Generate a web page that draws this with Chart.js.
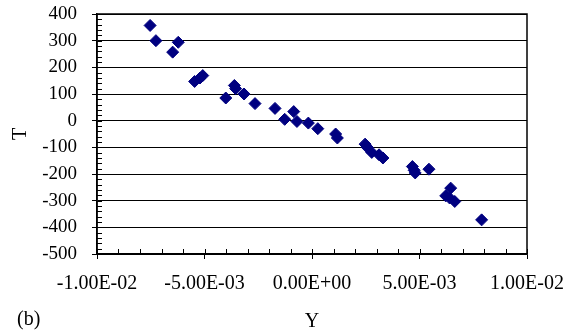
<!DOCTYPE html>
<html lang="en">
<head>
  <meta charset="UTF-8" />
  <title>T vs Y</title>
  <script src="https://cdn.jsdelivr.net/npm/chart.js"></script>
  <style>
    body {
      margin: 0;
      background: #fff;
      font-family: 'Liberation Serif', 'Times New Roman', serif;
    }
    .wrap {
      position: relative;
      width: 578px;
      height: 332px;
    }
    .panel-tag {
      position: absolute;
      left: 17px;
      top: 307px;
      font-size: 20px;
      color: #000;
    }
  </style>
</head>
<body>
  <div class="wrap">
    <canvas id="scatter"></canvas>
    <div class="panel-tag">(b)</div>
  </div>

  <script>
    // values
    const yValues = [
      -7.53e-3, -7.26e-3, -6.48e-3, -6.22e-3, -5.46e-3, -5.21e-3, -5.08e-3,
      -4.01e-3, -3.61e-3, -3.55e-3, -3.16e-3, -2.65e-3, -1.72e-3, -1.27e-3,
      -0.85e-3, -0.70e-3, -0.17e-3, 0.27e-3, 1.10e-3, 1.18e-3, 2.47e-3,
      2.57e-3, 2.78e-3, 3.12e-3, 3.30e-3, 4.67e-3, 4.75e-3, 4.80e-3,
      5.44e-3, 6.45e-3, 6.22e-3, 6.40e-3, 6.64e-3, 7.89e-3
    ];
    const tValues = [
      357, 300, 257, 294, 147, 160, 169,
      85, 132, 120, 100, 64, 46, 5,
      34, -3, -9, -30, -50, -65, -88,
      -100, -119, -128, -140, -172, -186, -196,
      -182, -253, -282, -290, -303, -372
    ];
    const xTicks = [-0.01, -0.005, 0, 0.005, 0.01];
    const tTicks = [400, 300, 200, 100, 0, -100, -200, -300, -400, -500];
    const xMinorStep = 0.001;
    const tMinorStep = 20;

    const points = yValues.map((y, i) => ({ x: y, y: tValues[i] }));

    function sciLabel(v) {
      return Number(v).toExponential(2).toUpperCase().replace(/E([+-])(\d)$/, 'E$10$2');
    }

    // minor ticks inside the plot + frame on top/right
    const frame = {
      id: 'frame',
      afterDraw(chart) {
        const ctx = chart.ctx;
        const a = chart.chartArea;
        const xs = chart.scales.x;
        const ys = chart.scales.y;
        ctx.save();
        ctx.strokeStyle = '#000';
        ctx.lineWidth = 1;
        ctx.beginPath();
        for (let v = xs.min; v <= xs.max + 1e-9; v += xMinorStep) {
          const px = Math.round(xs.getPixelForValue(v)) + 0.5;
          ctx.moveTo(px, a.bottom);
          ctx.lineTo(px, a.bottom - 5);
        }
        for (let v = ys.min; v <= ys.max + 1e-9; v += tMinorStep) {
          const py = Math.round(ys.getPixelForValue(v)) + 0.5;
          ctx.moveTo(a.left, py);
          ctx.lineTo(a.left + 5, py);
        }
        ctx.stroke();
        ctx.lineWidth = 1.5;
        ctx.strokeRect(a.left, a.top, a.right - a.left, a.bottom - a.top);
        ctx.restore();
      }
    };

    new Chart(document.getElementById('scatter'), {
      type: 'scatter',
      data: {
        datasets: [{
          data: points,
          pointStyle: 'rectRot',
          pointRadius: 6,
          backgroundColor: '#000080',
          borderColor: '#000080',
          borderWidth: 1
        }]
      },
      options: {
        responsive: true,
        maintainAspectRatio: false,
        animation: false,
        layout: { padding: { top: 14, right: 51, left: 0, bottom: 0 } },
        plugins: { legend: { display: false }, tooltip: { enabled: false } },
        scales: {
          x: {
            type: 'linear',
            min: -0.01,
            max: 0.01,
            afterBuildTicks: s => { s.ticks = xTicks.map(v => ({ value: v })); },
            afterFit: s => { s.height = 78; },
            ticks: {
              callback: v => sciLabel(v),
              color: '#000',
              font: { family: 'Liberation Serif', size: 20 },
              padding: 13,
              autoSkip: false,
              maxRotation: 0
            },
            grid: { drawOnChartArea: false, tickLength: 5, tickColor: '#000' },
            border: { color: '#000', width: 1.5 },
            title: {
              display: true,
              text: 'Y',
              color: '#000',
              font: { family: 'Liberation Serif', size: 20, lineHeight: 1 },
              padding: { top: 0, bottom: 0 }
            }
          },
          y: {
            min: -500,
            max: 400,
            afterBuildTicks: s => { s.ticks = tTicks.map(v => ({ value: v })); },
            afterFit: s => { s.width = 97; s.paddingTop = 0; s.paddingBottom = 0; },
            ticks: {
              color: '#000',
              font: { family: 'Liberation Serif', size: 19 },
              padding: 15,
              autoSkip: false
            },
            grid: { color: '#000', tickLength: 5, tickColor: '#000' },
            border: { color: '#000', width: 1.5 },
            title: {
              display: true,
              text: 'T',
              color: '#000',
              font: { family: 'Liberation Serif', size: 20, lineHeight: 1 },
              padding: { top: 11, bottom: 0 }
            }
          }
        }
      },
      plugins: [frame]
    });
  </script>
</body>
</html>
